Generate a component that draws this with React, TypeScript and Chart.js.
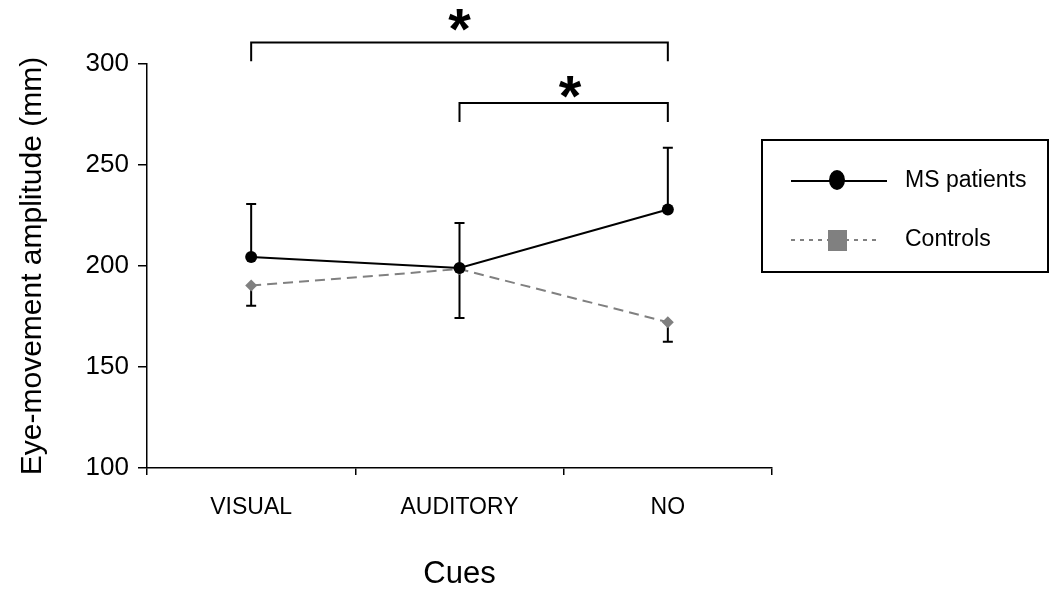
import React, { useEffect, useRef } from 'react';
import { Chart, registerables } from 'chart.js';

Chart.register(...registerables);

const categories = ['VISUAL', 'AUDITORY', 'NO'];
const msPatients = [204.5, 199, 228];
const msErrorUp = [26.2, 22.3, 30.6];
const controls = [190.3, 198.5, 172.2];
const controlsErrorDown = [10, 24.2, 9.7];
const yMin = 100;
const yMax = 300;
const yStep = 50;
// significance brackets: from/to category index, level (value), drop (value), star position
const brackets = [
  { from: 0, to: 2, level: 310.7, drop: 301.3, starX: 1.0, starY: 321.8, label: '*' },
  { from: 1, to: 2, level: 280.7, drop: 271.3, starX: 1.53, starY: 288.6, label: '*' },
];
const legendLabels = ['MS patients', 'Controls'];

const FONT = "'Liberation Sans', Arial, sans-serif";

const errorBarsPlugin = {
  id: 'errorBars',
  beforeDatasetsDraw(chart: any) {
    const ctx = chart.ctx;
    const xs = chart.scales.x;
    const ys = chart.scales.y;
    ctx.save();
    ctx.strokeStyle = '#000';
    ctx.lineWidth = 2;
    const cap = 5;
    const drawBar = (i: number, v: number, end: number) => {
      const x = xs.getPixelForValue(i);
      const y0 = ys.getPixelForValue(v);
      const y1 = ys.getPixelForValue(end);
      ctx.beginPath();
      ctx.moveTo(x, y0);
      ctx.lineTo(x, y1);
      ctx.moveTo(x - cap, y1);
      ctx.lineTo(x + cap, y1);
      ctx.stroke();
    };
    msPatients.forEach((v, i) => drawBar(i, v, v + msErrorUp[i]));
    controls.forEach((v, i) => drawBar(i, v, v - controlsErrorDown[i]));
    ctx.restore();
  },
};

const annotationsPlugin = {
  id: 'annotations',
  afterDraw(chart: any) {
    const ctx = chart.ctx;
    const xs = chart.scales.x;
    const ys = chart.scales.y;
    ctx.save();
    // brackets
    brackets.forEach((b) => {
      const x0 = xs.getPixelForValue(b.from);
      const x1 = xs.getPixelForValue(b.to);
      const yl = ys.getPixelForValue(b.level);
      const yd = ys.getPixelForValue(b.drop);
      ctx.strokeStyle = '#000';
      ctx.lineWidth = 2;
      ctx.beginPath();
      ctx.moveTo(x0, yd);
      ctx.lineTo(x0, yl);
      ctx.lineTo(x1, yl);
      ctx.lineTo(x1, yd);
      ctx.stroke();
      ctx.fillStyle = '#000';
      ctx.font = `bold 58px ${FONT}`;
      ctx.textAlign = 'center';
      ctx.textBaseline = 'alphabetic';
      const m = ctx.measureText(b.label);
      const sx = xs.getPixelForValue(b.starX);
      const sy = ys.getPixelForValue(b.starY);
      const base = sy + (m.actualBoundingBoxAscent - m.actualBoundingBoxDescent) / 2;
      ctx.fillText(b.label, sx, base);
    });

    // legend
    const ca = chart.chartArea;
    const bx = ca.right - 10;
    const by = 140;
    const bw = 286;
    const bh = 132;
    ctx.strokeStyle = '#000';
    ctx.lineWidth = 2;
    ctx.strokeRect(bx, by, bw, bh);
    const lx0 = bx + 29;
    const lx1 = bx + 125;
    const mx = bx + 75;
    const tx = bx + 143;
    const y1 = by + 41;
    const y2 = by + 100;
    // MS patients
    ctx.lineWidth = 2;
    ctx.setLineDash([]);
    ctx.beginPath();
    ctx.moveTo(lx0, y1);
    ctx.lineTo(lx1, y1);
    ctx.stroke();
    ctx.fillStyle = '#000';
    ctx.beginPath();
    ctx.ellipse(mx, y1 - 1, 8, 10, 0, 0, Math.PI * 2);
    ctx.fill();
    // Controls
    ctx.strokeStyle = '#808080';
    ctx.setLineDash([4, 5]);
    ctx.beginPath();
    ctx.moveTo(lx0, y2);
    ctx.lineTo(lx1 - 8, y2);
    ctx.stroke();
    ctx.setLineDash([]);
    ctx.fillStyle = '#808080';
    ctx.fillRect(mx - 9, y2 - 10, 19, 21);
    // text
    ctx.fillStyle = '#000';
    ctx.font = `23px ${FONT}`;
    ctx.textAlign = 'left';
    ctx.textBaseline = 'middle';
    ctx.fillText(legendLabels[0], tx, y1);
    ctx.fillText(legendLabels[1], tx, y2);
    ctx.restore();
  },
};

function ChartView() {
  const ref = useRef<HTMLCanvasElement | null>(null);
  useEffect(() => {
    if (!ref.current) return;
    const chart = new Chart(ref.current, {
      type: 'line',
      data: {
        labels: categories,
        datasets: [
          {
            label: legendLabels[0],
            data: msPatients,
            borderColor: '#000',
            backgroundColor: '#000',
            borderWidth: 2,
            pointStyle: 'circle',
            pointRadius: 6,
            pointBorderWidth: 0,
            tension: 0,
          },
          {
            label: legendLabels[1],
            data: controls,
            borderColor: '#808080',
            backgroundColor: '#808080',
            borderWidth: 2,
            borderDash: [10, 6],
            pointStyle: 'rectRot',
            pointRadius: 6,
            pointBorderWidth: 0,
            tension: 0,
          },
        ],
      },
      options: {
        responsive: false,
        animation: false,
        events: [],
        layout: { padding: { top: 64, right: 283, left: 0, bottom: 0 } },
        plugins: {
          legend: { display: false },
          tooltip: { enabled: false },
        },
        scales: {
          x: {
            type: 'category',
            offset: true,
            grid: {
              offset: true,
              drawOnChartArea: false,
              drawTicks: true,
              tickLength: 7,
              color: '#000',
              lineWidth: 1.5,
            },
            border: { display: true, color: '#000', width: 1.5 },
            ticks: {
              color: '#000',
              font: { family: FONT, size: 23 },
              padding: 19,
              maxRotation: 0,
            },
            title: {
              display: true,
              text: 'Cues',
              color: '#000',
              font: { family: FONT, size: 31 },
              padding: { top: 0, bottom: 0 },
            },
            afterFit(scale: any) {
              scale.height = 125;
            },
          },
          y: {
            min: yMin,
            max: yMax,
            ticks: {
              stepSize: yStep,
              color: '#000',
              font: { family: FONT, size: 26 },
              padding: 9,
            },
            grid: {
              drawOnChartArea: false,
              drawTicks: true,
              tickLength: 9,
              color: '#000',
              lineWidth: 1.5,
            },
            border: { display: true, color: '#000', width: 1.5 },
            title: {
              display: true,
              text: 'Eye-movement amplitude (mm)',
              color: '#000',
              font: { family: FONT, size: 30 },
              padding: { top: 15, bottom: 0 },
            },
            afterFit(scale: any) {
              scale.width = 147;
            },
          },
        },
      },
      plugins: [errorBarsPlugin, annotationsPlugin],
    });
    return () => chart.destroy();
  }, []);
  return <canvas ref={ref} width={1055} height={593} style={{ display: 'block' }} />;
}

export default function App() {
  return (
    <div style={{ position: 'absolute', left: 0, top: 0, width: 1055, height: 593, background: '#fff' }}>
      <ChartView />
    </div>
  );
}
